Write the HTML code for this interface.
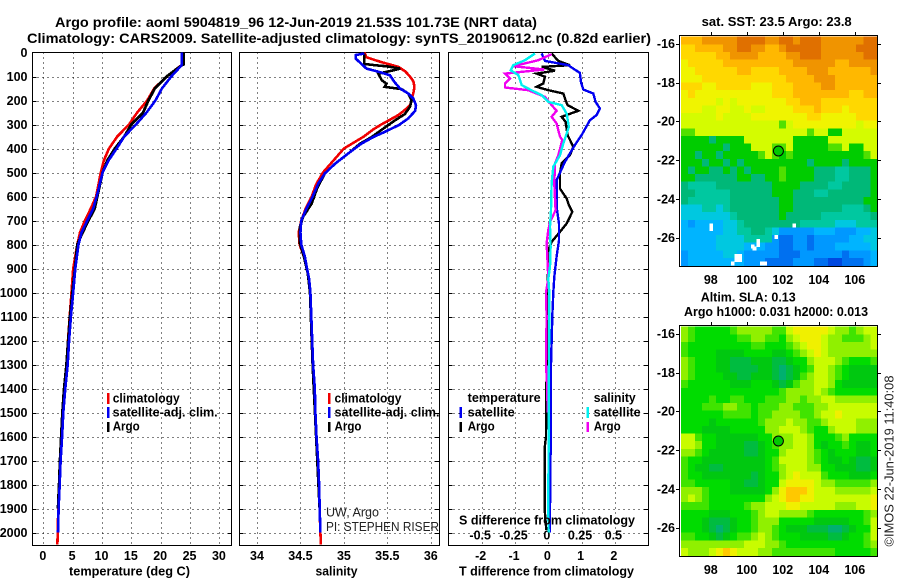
<!DOCTYPE html>
<html lang="en">
<head>
<meta charset="utf-8">
<title>Argo profile 5904819_96</title>
<style>
html,body{margin:0;padding:0;background:#fff;width:900px;height:580px;overflow:hidden}
svg{display:block}
text{font-family:"Liberation Sans",sans-serif;fill:#000}
.b{font-weight:bold;font-size:12.5px}
.t{font-weight:bold;font-size:14px}
.n{font-weight:normal;font-size:12.5px;fill:#222}
</style>
</head>
<body>
<svg id="chart" width="900" height="580" viewBox="0 0 900 580" xmlns="http://www.w3.org/2000/svg">
<g id="layer-maps"></g>
<g id="layer-panels"></g>
<text class="t" x="55" y="27" textLength="482" lengthAdjust="spacingAndGlyphs">Argo profile: aoml 5904819_96 12-Jun-2019 21.53S 101.73E (NRT data)</text>
<text class="t" x="27" y="43" textLength="624" lengthAdjust="spacingAndGlyphs">Climatology: CARS2009. Satellite-adjusted climatology: synTS_20190612.nc (0.82d earlier)</text>
<text class="b" x="69" y="575.5" textLength="121" lengthAdjust="spacingAndGlyphs">temperature (deg C)</text>
<text class="b" x="315.5" y="575.5" textLength="42" lengthAdjust="spacingAndGlyphs">salinity</text>
<text class="b" x="459" y="575.5" textLength="175" lengthAdjust="spacingAndGlyphs">T difference from climatology</text>
<text class="b" x="459" y="524.5" textLength="176" lengthAdjust="spacingAndGlyphs">S difference from climatology</text>

<g>
<rect x="107" y="393" width="2.5" height="11" fill="#f00000"/>
<text class="b" x="112.7" y="402.5" textLength="67" lengthAdjust="spacingAndGlyphs">climatology</text>
<rect x="107" y="407" width="2.5" height="11" fill="#0000f0"/>
<text class="b" x="112.7" y="416.5" textLength="105" lengthAdjust="spacingAndGlyphs">satellite-adj. clim.</text>
<rect x="107" y="422" width="2.5" height="10" fill="#000"/>
<text class="b" x="112.7" y="430.5" textLength="27" lengthAdjust="spacingAndGlyphs">Argo</text>
</g>
<g>
<rect x="328" y="393" width="2.5" height="11" fill="#f00000"/>
<text class="b" x="334.5" y="402.5" textLength="67" lengthAdjust="spacingAndGlyphs">climatology</text>
<rect x="328" y="407" width="2.5" height="11" fill="#0000f0"/>
<text class="b" x="334.5" y="416.5" textLength="105" lengthAdjust="spacingAndGlyphs">satellite-adj. clim.</text>
<rect x="328" y="422" width="2.5" height="10" fill="#000"/>
<text class="b" x="334.5" y="430.5" textLength="27" lengthAdjust="spacingAndGlyphs">Argo</text>
</g>
<g>
<text class="b" x="467.7" y="402" textLength="73" lengthAdjust="spacingAndGlyphs">temperature</text>
<rect x="459.5" y="407" width="2.5" height="11" fill="#0000f0"/>
<text class="b" x="467.7" y="416.5" textLength="47" lengthAdjust="spacingAndGlyphs">satellite</text>
<rect x="459.5" y="422" width="2.5" height="10" fill="#000"/>
<text class="b" x="467.7" y="430.5" textLength="27" lengthAdjust="spacingAndGlyphs">Argo</text>
<text class="b" x="593.7" y="402" textLength="42" lengthAdjust="spacingAndGlyphs">salinity</text>
<rect x="586.5" y="407" width="2.5" height="11" fill="#00f0f0"/>
<text class="b" x="593.7" y="416.5" textLength="47" lengthAdjust="spacingAndGlyphs">satellite</text>
<rect x="586.5" y="422" width="2.5" height="10" fill="#f000f0"/>
<text class="b" x="593.7" y="430.5" textLength="27" lengthAdjust="spacingAndGlyphs">Argo</text>
</g>

<text class="n" x="326" y="516.5" textLength="53" lengthAdjust="spacingAndGlyphs">UW, Argo</text>
<text class="n" x="326" y="531" textLength="113" lengthAdjust="spacingAndGlyphs">PI: STEPHEN RISER</text>

<text class="b" x="701.7" y="26" textLength="150" lengthAdjust="spacingAndGlyphs">sat. SST: 23.5 Argo: 23.8</text>
<text class="b" x="700.7" y="301.5" textLength="95" lengthAdjust="spacingAndGlyphs">Altim. SLA: 0.13</text>
<text class="b" x="684" y="316" textLength="184" lengthAdjust="spacingAndGlyphs">Argo h1000: 0.031 h2000: 0.013</text>
<text class="n" transform="translate(893.5,546.5) rotate(-90)" textLength="171" lengthAdjust="spacingAndGlyphs">©IMOS 22-Jun-2019 11:40:08</text>

<script>
// ---------- shared axis values ----------
const depthTicks = [0,100,200,300,400,500,600,700,800,900,1000,1100,1200,1300,1400,1500,1600,1700,1800,1900,2000];
const tempTicks = [0,5,10,15,20,25,30];
const salTicks = [34,34.5,35,35.5,36];
const tDiffTicks = [-2,-1,0,1,2];
const sDiffTickValues = [-0.5,-0.25,0,0.25,0.5];
const sDiffTickLabels = ['-0.5','-0.25','0','0.25','0.5'];
const lonTicks = [98,100,102,104,106];
const latTicks = [-16,-18,-20,-22,-24,-26];

// ---------- temperature profile ----------
const tempDepth = [0,50,55,100,150,200,250,300,350,400,450,500,600,650,700,750,800,900,1000,1100,1200,1300,1400,1500,1600,1700,1800,1900,2000,2050];
const tempClim = [23.7,23.7,23.4,21,18.9,17.7,16,14.6,12.6,11.2,10.3,9.8,9,8.1,7.1,6.25,5.8,5.1,4.8,4.5,4.2,3.95,3.6,3.3,3.1,2.9,2.75,2.55,2.45,2.4];
const tempArgo = [23.9,23.9,23.5,21,19,17.9,17,15,13.8,12.2,10.9,10.1,9.2,8.75,7.7,6.7,5.8,5.4,4.95,4.55,4.25,3.95,3.55,3.25,3.05,2.85,2.7,2.5];
const tempSat = [23.6,23.6,23.5,21.8,20.2,19.1,17.6,15.8,13.8,12.5,11.1,10.1,9.1,8.5,7.5,6.5,6,5.45,5.1,4.7,4.4,4.15,3.75,3.4,3.2,2.95,2.8,2.6,2.5];

// ---------- salinity profile ----------
const salClimDepth = [0,20,40,60,80,100,120,140,160,180,200,220,240,260,280,300,320,350,400,450,500,550,600,650,700,750,800,850,900,950,1000,1100,1200,1300,1400,1500,1600,1700,1800,1900,2000,2050];
const salClim = [35.235,35.26,35.43,35.63,35.71,35.76,35.8,35.81,35.805,35.79,35.78,35.76,35.7,35.63,35.53,35.43,35.34,35.23,35,34.88,34.76,34.68,34.63,34.56,34.51,34.48,34.49,34.54,34.575,34.6,34.61,34.62,34.63,34.64,34.66,34.667,34.68,34.7,34.713,34.72,34.73,34.735];
const salArgoDepth = [4,48,53,58,67,76,88,115,130,143,153,171,199,227,257,282,313,352,380,421,463,504,567,629,685,726,796,851,921,1000,1300,1600,1900];
const salArgo = [35.235,35.235,35.358,35.5,35.645,35.55,35.396,35.435,35.49,35.47,35.665,35.74,35.78,35.76,35.7,35.59,35.47,35.32,35.185,35.05,34.9,34.78,34.69,34.63,34.53,34.495,34.495,34.54,34.585,34.61,34.64,34.68,34.72];
const salSatDepth = [4,11,25,35,67,80,95,122,150,171,192,220,243,275,303,331,352,380,421,463,504,546,601,650,700,750,800,850,900,942,1000,1100,1200,1300,1400,1500,1600,1700,1800,1900,2000];
const salSat = [35.235,35.135,35.135,35.165,35.26,35.396,35.53,35.58,35.645,35.74,35.8,35.83,35.82,35.74,35.63,35.47,35.34,35.2,35.05,34.9,34.78,34.705,34.64,34.57,34.51,34.5,34.51,34.55,34.575,34.6,34.615,34.625,34.635,34.645,34.665,34.672,34.685,34.703,34.715,34.722,34.73];

// ---------- differences from climatology ----------
const tDiffArgoDepth = [4,35,53,60,76,88,101,129,143,157,171,199,219,243,268,289,344,393,428,463,504,567,608,636,664,713,747,789,817,851,1000,1300,1600,1650,1900,1990];
const tDiffArgo = [0.1,0.3,0.65,-0.2,0.2,-0.35,-0.1,-0.15,-0.35,0,0.45,0.52,0.58,0.9,0.4,0.52,0.58,0.75,0.65,0.4,0.35,0.35,0.55,0.62,0.72,0.55,0.35,0.1,0.02,0,-0.02,-0.05,-0.07,-0.11,-0.11,-0.06];
const tDiffSatDepth = [4,35,53,67,85,122,154,171,206,233,261,282,344,386,456,532,643,713,782,851,935,1000,1100,1300,1500,1900,2000];
const tDiffSat = [-0.2,-0.1,0.6,0.75,0.95,0.98,1.05,1.35,1.42,1.55,1.45,1.25,1,0.8,0.5,0.25,0.25,0.32,0.32,0.25,0.18,0.15,0.12,0.08,0.08,0.05,0.05];
const sDiffArgoDepth = [7,32,57,71,88,108,129,146,157,185,219,243,268,296,351,365,428,463,546,657,706,740,796,851,942,1000,1100,1300,1400,1500];
const sDiffArgo = [0.025,-0.075,-0.2625,-0.03,-0.325,-0.2875,-0.325,-0.325,-0.15,-0.025,0.025,0.0625,0.025,0.0625,0.0875,0.105,0.075,0.05,0.045,0.055,0.0125,0,-0.0125,-0.0075,0,-0.0175,-0.0125,-0.0175,-0.0075,-0.005];
const sDiffSatDepth = [4,32,53,74,94,136,154,178,206,219,254,310,379,428,476,546,657,726,810,893,942,1000,1900,2000];
const sDiffSat = [-0.1,-0.175,-0.2625,-0.2825,-0.225,-0.2,-0.1375,-0.05,0,0.1,0.1375,0.155,0.1125,0.0875,0.0375,0.025,0.02,0.0125,0.0175,0.0125,0,0.0075,0,0.0025];

// ---------- float position ----------
const floatLon = 101.73;
const floatLat = -21.53;

// ---------- SST map: colour-level per grid cell, north to south ----------
const sstLevels = [
[12,12,12,13,13,13,13,13,14,14,14,14,13,13,14,14,13,14,14,14,13,13,13,13,13,13,14,14],
[11,11,12,12,12,12,13,13,14,14,13,13,12,12,13,14,14,14,14,14,13,13,13,13,13,14,14,14],
[11,11,11,11,11,12,12,13,13,13,13,12,12,12,12,13,13,14,14,14,13,13,13,13,13,13,14,14],
[10,11,11,11,11,11,12,12,12,12,12,12,12,12,12,12,13,13,13,13,13,13,12,12,13,13,13,13],
[10,10,11,11,11,11,11,11,12,12,11,11,11,11,12,12,12,12,13,13,13,12,12,12,12,12,12,13],
[10,10,10,11,11,11,11,11,11,11,11,11,11,11,11,12,12,12,12,13,13,13,12,12,12,12,12,12],
[11,11,11,10,10,11,11,11,11,11,10,10,10,11,11,11,12,12,12,12,13,13,12,12,12,12,12,12],
[10,11,10,10,10,10,10,10,10,10,10,10,10,11,11,11,12,12,12,12,12,12,12,12,11,11,12,12],
[10,10,10,10,10,9,10,9,10,10,10,10,10,10,10,11,11,12,12,12,11,11,11,11,11,11,11,11],
[10,10,10,9,9,10,10,9,9,10,9,9,10,10,10,10,11,11,11,12,11,11,11,10,11,11,11,11],
[9,9,9,9,9,10,9,9,9,9,10,10,10,10,10,10,10,10,11,11,10,10,10,10,10,11,11,11],
[9,9,9,9,9,9,9,9,9,9,9,9,9,9,8,9,10,10,10,10,10,10,10,10,10,9,10,10],
[8,8,9,9,9,9,9,9,9,9,9,9,9,9,9,9,9,9,8,9,9,7,7,9,9,9,9,9],
[7,7,7,7,6,7,7,7,7,9,9,9,9,9,9,9,7,7,7,7,7,9,9,9,9,9,9,9],
[7,7,7,7,7,7,6,7,7,7,9,9,9,8,8,9,7,7,7,7,7,8,8,9,7,7,9,9],
[7,7,6,7,7,6,7,7,7,7,7,8,9,8,7,8,7,7,7,7,7,7,7,7,7,7,8,9],
[7,7,7,6,7,7,6,7,6,7,7,7,7,7,7,7,7,7,6,7,7,7,7,6,7,7,7,7],
[7,6,7,7,6,6,7,6,7,6,7,7,7,7,8,7,7,7,7,6,6,6,5,5,6,6,6,7],
[7,7,6,6,6,6,6,6,7,7,6,6,7,7,8,7,7,7,7,6,6,6,5,5,6,6,6,7],
[6,5,5,5,5,6,6,6,6,6,6,6,6,7,7,7,7,6,6,6,6,5,5,6,6,6,6,7],
[6,6,5,5,5,5,5,6,6,6,6,6,6,7,7,7,6,6,6,5,5,6,6,6,6,6,6,7],
[6,5,5,5,5,5,5,6,6,6,6,6,6,6,7,7,6,6,6,6,6,6,6,6,6,6,7,7],
[4,4,4,5,5,4,5,6,6,6,6,6,6,6,7,7,6,6,6,6,6,6,6,5,5,5,6,7],
[4,4,4,4,4,4,4,5,6,6,6,6,6,6,7,6,6,6,6,6,5,5,5,5,5,5,5,6],
[3,2,3,3,3,3,4,4,5,6,6,6,6,6,6,6,6,5,5,5,5,5,4,4,4,5,5,5],
[3,3,3,3,3,3,4,4,5,5,6,6,5,4,2,2,2,2,2,3,3,3,2,2,2,3,3,4],
[3,3,3,3,3,4,4,4,4,5,5,5,5,2,1,1,2,2,1,2,2,2,2,2,3,3,4,4],
[3,3,3,3,3,4,4,4,4,3,3,3,2,2,1,1,2,2,1,2,2,2,3,3,3,3,3,4],
[2,3,3,3,3,3,4,4,3,2,2,2,2,2,1,1,1,2,2,2,2,2,2,1,2,2,2,3],
[2,3,3,3,3,3,3,3,3,2,2,2,1,1,1,1,2,2,2,1,1,0,0,1,1,1,2,3]
];
const sstLevelColors = ['#0048e0','#0070f0','#0098ff','#00b4ff','#00c8e0','#00c8a0','#00b878','#00cc00','#50e000','#d4fc00','#f0f400','#ffd800','#ffb800','#f09400','#e07000'];
// SST missing-data cells as lon, lat
const sstGapLon = [98,98,102.6,101.6,100.6,100.6,100.3,100.4,99.4,99.6,99.4,99.6,99.2,100.8,101];
const sstGapLat = [-25.36,-25.56,-25.37,-25.97,-26.18,-26.38,-26.45,-26.55,-26.95,-26.95,-27.15,-27.15,-27.34,-27.34,-27.34];

// ---------- altimetry SLA map: colour-level per grid cell, north to south ----------
const slaLevels = [
[5,4,3,3,3,3,3,4,5,5,5,5,5,4,4,6,7,7,7,7,7,6,5,5,4,5,6,6],
[5,4,3,3,3,3,3,3,4,4,5,5,4,4,3,5,6,7,7,7,6,5,5,4,4,4,5,6],
[4,3,3,3,3,3,3,3,3,3,4,4,3,3,3,4,5,6,7,7,6,5,5,5,5,5,5,6],
[4,3,3,3,3,2,2,2,2,3,3,3,3,2,2,3,4,5,6,7,6,5,5,5,5,5,5,5],
[5,4,3,3,3,2,2,1,1,1,2,2,2,1,1,2,3,3,5,6,6,6,5,4,3,3,3,4],
[5,4,3,3,3,2,2,1,1,1,1,2,2,1,0,1,2,3,4,6,6,5,4,3,2,2,2,2],
[5,4,3,3,3,3,2,2,1,1,2,2,2,1,0,1,2,4,5,6,6,5,4,3,2,2,2,2],
[4,3,3,3,3,3,3,2,2,2,3,3,3,2,1,2,4,5,5,6,6,5,3,2,2,2,2,2],
[3,3,3,3,3,3,3,3,3,3,3,3,3,3,4,5,5,5,5,6,5,4,3,3,3,3,3,3],
[3,3,3,3,4,3,3,4,4,3,3,3,4,4,4,5,5,4,5,5,6,6,5,5,5,5,5,5],
[3,3,3,4,4,4,5,5,4,4,3,4,4,4,5,5,4,4,4,5,5,6,6,6,6,6,6,6],
[3,3,3,3,3,3,4,4,4,4,3,4,4,5,5,5,5,4,4,5,6,6,7,6,6,6,6,6],
[3,3,3,3,2,3,3,3,3,3,3,4,5,5,5,6,5,5,4,4,5,6,6,6,6,5,5,5],
[3,3,3,2,2,2,2,3,3,3,3,3,5,5,6,6,6,5,4,3,3,5,6,6,6,5,5,5],
[6,6,4,3,3,2,2,2,2,2,2,3,3,5,5,5,6,6,5,3,3,3,4,5,3,3,3,3],
[6,6,5,3,3,2,2,2,2,1,1,2,3,4,5,5,6,6,5,3,2,3,3,4,3,2,2,3],
[5,5,4,3,2,2,2,2,2,1,1,2,3,3,5,6,6,6,5,4,3,2,3,3,3,2,2,3],
[4,3,3,2,2,2,2,2,2,2,2,2,3,4,6,6,6,6,5,4,3,2,2,3,2,1,1,2],
[4,3,2,2,1,1,2,2,2,2,2,2,3,4,5,6,6,6,5,5,3,3,2,2,2,1,1,2],
[4,3,3,2,2,2,2,2,2,2,1,2,3,3,5,6,7,6,6,6,4,3,3,3,2,2,2,3],
[4,4,3,3,3,3,3,2,2,1,1,2,3,3,6,7,7,7,7,6,5,5,4,4,4,4,4,5],
[5,5,5,4,3,3,3,2,2,2,2,2,3,5,7,8,8,8,7,6,6,6,5,5,5,5,5,6],
[5,6,5,4,3,3,3,3,3,3,3,3,5,6,7,8,8,7,7,6,6,6,6,6,6,6,6,7],
[4,4,4,4,3,3,3,3,3,4,5,5,6,6,6,7,7,6,6,6,6,6,5,5,5,6,6,7],
[3,3,3,3,2,2,2,3,3,3,4,5,6,6,5,5,5,5,4,3,3,3,3,3,3,3,4,5],
[3,3,3,2,1,1,1,2,3,3,4,5,5,5,3,3,3,3,3,2,2,2,2,2,3,3,4,6],
[3,3,3,2,1,0,1,2,3,3,4,5,5,4,3,2,2,2,1,1,1,0,0,1,2,3,3,6],
[4,4,3,3,2,1,2,3,4,4,5,6,5,4,3,3,3,2,2,2,2,1,1,2,3,3,4,6],
[5,5,5,5,5,5,5,5,5,6,6,6,5,5,4,3,3,3,3,3,3,3,3,3,3,3,4,5],
[6,5,5,5,6,7,8,7,6,6,6,5,5,4,4,4,4,4,4,4,4,4,3,3,3,3,3,4]
];
const slaLevelColors = ['#00b070','#00bc40','#00c810','#00dc00','#40e400','#90f000','#c8fc00','#f0f000','#ffc800'];

const NS = 'http://www.w3.org/2000/svg';
const panelLayer = document.getElementById('layer-panels');
const mapLayer = document.getElementById('layer-maps');

function mk(tag, parent) {
  const e = document.createElementNS(NS, tag);
  parent.appendChild(e);
  return e;
}
function seg(parent, x1, y1, x2, y2, stroke, width, dash) {
  const l = mk('line', parent);
  l.setAttribute('x1', x1);
  l.setAttribute('y1', y1);
  l.setAttribute('x2', x2);
  l.setAttribute('y2', y2);
  l.setAttribute('stroke', stroke);
  l.setAttribute('stroke-width', width);
  l.setAttribute('shape-rendering', 'crispEdges');
  if (dash) l.setAttribute('stroke-dasharray', dash);
  return l;
}
function label(parent, x, y, str, anchor) {
  const t = mk('text', parent);
  t.setAttribute('class', 'b');
  t.setAttribute('x', x);
  t.setAttribute('y', y);
  t.setAttribute('text-anchor', anchor);
  t.textContent = str;
  return t;
}
function frame(parent, x0, y0, x1, y1) {
  const r = mk('rect', parent);
  r.setAttribute('x', x0);
  r.setAttribute('y', y0);
  r.setAttribute('width', x1 - x0);
  r.setAttribute('height', y1 - y0);
  r.setAttribute('fill', 'none');
  r.setAttribute('stroke', '#000');
  r.setAttribute('stroke-width', 1);
  r.setAttribute('shape-rendering', 'crispEdges');
  return r;
}

// ---------- axis functions ----------
const depthY = d => 52.5 + d * 0.24;
const tempX = v => 43.3 + v * 5.87;
const salX = v => 257 + (v - 34) * 86.9;
const tDiffX = v => 548.3 + v * 33.3;
const sDiffX = v => 548.3 + v * 133.2;

function profile(parent, name, depths, values, xFn, color, width) {
  const n = Math.min(depths.length, values.length);
  const pts = [];
  for (let i = 0; i < n; i++) pts.push(xFn(values[i]).toFixed(1) + ',' + depthY(depths[i]).toFixed(1));
  const p = mk('polyline', parent);
  p.setAttribute('points', pts.join(' '));
  p.setAttribute('fill', 'none');
  p.setAttribute('stroke', color);
  p.setAttribute('stroke-width', width);
  p.setAttribute('shape-rendering', 'crispEdges');
  
  
}

function panelAxes(name, x0, x1, xFn, ticks) {
  const g = mk('g', panelLayer);
  
  
  const y0 = 52.5, y1 = 545.5;
  for (const d of depthTicks) {
    if (d > 0) {
      const gl = seg(g, x0, Math.round(depthY(d)) + 0.5, x1, Math.round(depthY(d)) + 0.5, '#000', 1, '1 4');
      
      
      seg(g, x0, Math.round(depthY(d)) + 0.5, x0 + 4, Math.round(depthY(d)) + 0.5, '#000', 1);
      seg(g, x1 - 4, Math.round(depthY(d)) + 0.5, x1, Math.round(depthY(d)) + 0.5, '#000', 1);
    }
  }
  for (const v of ticks) {
    const gl = seg(g, Math.round(xFn(v)) + 0.5, y0, Math.round(xFn(v)) + 0.5, y1, '#000', 1, '1 4');
    
    
  }
  const f = frame(g, x0, y0, x1, y1);
  
  
  return g;
}

// ---------- temperature panel ----------
const tempPanel = panelAxes('temperature-panel', 32.5, 231.5, tempX, tempTicks);
for (const d of depthTicks) {
  const t = label(tempPanel, 27.5, depthY(d) + 4.4, String(d), 'end');
  
  
}
for (const v of tempTicks) {
  const t = label(tempPanel, tempX(v) - 0.5, 560, String(v), 'middle');
  
  
}
profile(tempPanel, 'temperature-climatology-line', tempDepth, tempClim, tempX, '#f00000', 2.6);
profile(tempPanel, 'temperature-argo-line', tempDepth, tempArgo, tempX, '#000', 2.8);
profile(tempPanel, 'temperature-satellite-line', tempDepth, tempSat, tempX, '#0000f0', 2.6);

// ---------- salinity panel ----------
const salPanel = panelAxes('salinity-panel', 239.5, 439.5, salX, salTicks);
for (const v of salTicks) {
  const t = label(salPanel, salX(v), 560, String(v), 'middle');
  
  
}
profile(salPanel, 'salinity-climatology-line', salClimDepth, salClim, salX, '#f00000', 2.6);
profile(salPanel, 'salinity-argo-line', salArgoDepth, salArgo, salX, '#000', 2.6);
profile(salPanel, 'salinity-satellite-line', salSatDepth, salSat, salX, '#0000f0', 2.6);

// ---------- difference panel ----------
const diffPanel = panelAxes('difference-panel', 448.5, 648.5, tDiffX, tDiffTicks);
for (const v of tDiffTicks) {
  const t = label(diffPanel, tDiffX(v) - 1, 560, String(v), 'middle');
  
  
}
sDiffTickValues.forEach((v, i) => {
  const t = label(diffPanel, sDiffX(v) - 1.5, 539.5, sDiffTickLabels[i], 'middle');
  
  
});
profile(diffPanel, 't-difference-argo-line', tDiffArgoDepth, tDiffArgo, tDiffX, '#000', 2.4);
profile(diffPanel, 't-difference-satellite-line', tDiffSatDepth, tDiffSat, tDiffX, '#0000f0', 2.4);
profile(diffPanel, 's-difference-argo-line', sDiffArgoDepth, sDiffArgo, sDiffX, '#f000f0', 2.4);
profile(diffPanel, 's-difference-satellite-line', sDiffSatDepth, sDiffSat, sDiffX, '#00f0f0', 2.4);

// ---------- maps ----------
function drawMap(name, offY, rows, colors, gapLon, gapLat) {
  const g = mk('g', mapLayer);
  
  
  const lonX = lon => 711.3 + (lon - 98) * 18;
  const latY = lat => 43.7 + offY + (-16 - lat) * 19.4;
  const lonW = 96.32, lonE = 107.22, latN = -15.64, latS = -27.44;
  const nr = rows.length, nc = rows[0].length;
  const dLon = (lonE - lonW) / nc, dLat = (latN - latS) / nr;
  rows.forEach((row, r) => {
    row.forEach((v, c) => {
      const x0 = lonX(lonW + c * dLon), x1 = lonX(lonW + (c + 1) * dLon);
      const y0 = latY(latN - r * dLat), y1 = latY(latN - (r + 1) * dLat);
      const cell = mk('rect', g);
      cell.setAttribute('x', x0.toFixed(2));
      cell.setAttribute('y', y0.toFixed(2));
      cell.setAttribute('width', (x1 - x0 + 0.3).toFixed(2));
      cell.setAttribute('height', (y1 - y0 + 0.3).toFixed(2));
      cell.setAttribute('fill', colors[v]);
      cell.setAttribute('shape-rendering', 'crispEdges');
      
      
    });
  });
  gapLon.forEach((lon, i) => {
    const gap = mk('rect', g);
    gap.setAttribute('x', (lonX(lon) - 1.8).toFixed(2));
    gap.setAttribute('y', (latY(gapLat[i]) - 2).toFixed(2));
    gap.setAttribute('width', 3.6);
    gap.setAttribute('height', 3.9);
    gap.setAttribute('fill', '#fff');
    gap.setAttribute('shape-rendering', 'crispEdges');
    
    
  });
  const f = frame(g, 679.5, 35.5 + offY, 877.5, 266.5 + offY);
  
  
  for (const lon of lonTicks) {
    const x = Math.round(lonX(lon)) + 0.5;
    seg(g, x, 32 + offY, x, 35.5 + offY, '#000', 1);
    const t = label(g, lonX(lon) - 0.5, 284 + offY, String(lon), 'middle');
    
    
  }
  for (const lat of latTicks) {
    const y = Math.round(latY(lat)) + 0.5;
    seg(g, 676, y, 679.5, y, '#000', 1);
    seg(g, 877.5, y, 881, y, '#000', 1);
    const t = label(g, 675, latY(lat) + 4.4, String(lat), 'end');
    
    
  }
  const m = mk('circle', g);
  m.setAttribute('cx', lonX(floatLon).toFixed(1));
  m.setAttribute('cy', latY(floatLat).toFixed(1));
  m.setAttribute('r', 5);
  m.setAttribute('fill', '#00c800');
  m.setAttribute('stroke', '#000');
  m.setAttribute('stroke-width', 1);
  
  
}
drawMap('sst-map', 0, sstLevels, sstLevelColors, sstGapLon, sstGapLat);
drawMap('sla-map', 290, slaLevels, slaLevelColors, [], []);
</script>
</svg>
</body>
</html>
